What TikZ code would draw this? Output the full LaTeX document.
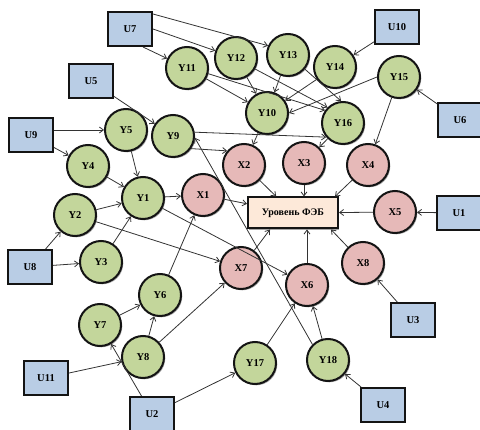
\documentclass[tikz,border=0pt]{standalone}
\usepackage{fontspec}
\setmainfont{Liberation Serif}
\usetikzlibrary{arrows.meta,shadows,calc}
\definecolor{ublue}{HTML}{B9CDE5}
\definecolor{ygreen}{HTML}{C3D69B}
\definecolor{xpink}{HTML}{E6B9B8}
\definecolor{peach}{HTML}{FDE9D9}
\definecolor{edgec}{HTML}{141414}
\begin{document}
\begin{tikzpicture}[x=1pt,y=-1pt,
  shad/.style={drop shadow={shadow xshift=1.3pt,shadow yshift=-1.3pt,opacity=0.35,fill=black}},
  ubox/.style={shad,draw=edgec,line width=2pt,fill=ublue,minimum width=44pt,minimum height=34pt,inner sep=0pt,font=\bfseries\fontsize{10.5}{12}\selectfont},
  ynode/.style={shad,circle,draw=edgec,line width=2pt,fill=ygreen,minimum size=42pt,inner sep=0pt,font=\bfseries\fontsize{10.5}{12}\selectfont},
  xnode/.style={ynode,fill=xpink},
  mainbox/.style={shad,draw=edgec,line width=2pt,fill=peach,minimum width=90pt,minimum height=31pt,inner sep=0pt,font=\bfseries\fontsize{10}{12}\selectfont},
  arr/.style={-{Straight Barb[length=4pt,width=6pt]},line width=0.8pt,draw=black!80},
]
\useasboundingbox (0,0) rectangle (480,430);
% U boxes
\node[ubox] (U7) at (130,29) {U7};
\node[ubox] (U5) at (91,81) {U5};
\node[ubox] (U9) at (31,135) {U9};
\node[ubox] (U10) at (397,27) {U10};
\node[ubox] (U6) at (460,120) {U6};
\node[ubox] (U1) at (459,213) {U1};
\node[ubox] (U8) at (30,267) {U8};
\node[ubox] (U11) at (46,378) {U11};
\node[ubox] (U2) at (152,414) {U2};
\node[ubox] (U3) at (413,320) {U3};
\node[ubox] (U4) at (383,405) {U4};
% main box
\node[mainbox] (B) at (293,213) {Уровень ФЭБ};
% Y nodes
\node[ynode] (Y11) at (187,68) {Y11};
\node[ynode] (Y12) at (236,58) {Y12};
\node[ynode] (Y13) at (288,55) {Y13};
\node[ynode] (Y14) at (335,67) {Y14};
\node[ynode] (Y10) at (267,113) {Y10};
\node[ynode] (Y16) at (343,123) {Y16};
\node[ynode] (Y9) at (173,136) {Y9};
\node[ynode] (Y15) at (399,77) {Y15};
\node[ynode] (Y5) at (126,130) {Y5};
\node[ynode] (Y4) at (88,166) {Y4};
\node[ynode] (Y1) at (143,198) {Y1};
\node[ynode] (Y2) at (75,215) {Y2};
\node[ynode] (Y3) at (101,262) {Y3};
\node[ynode] (Y6) at (160,295) {Y6};
\node[ynode] (Y7) at (100,325) {Y7};
\node[ynode] (Y8) at (143,357) {Y8};
\node[ynode] (Y17) at (255,363) {Y17};
\node[ynode] (Y18) at (328,360) {Y18};
% X nodes
\node[xnode] (X1) at (203,195) {X1};
\node[xnode] (X2) at (244,165) {X2};
\node[xnode] (X3) at (304,163) {X3};
\node[xnode] (X4) at (368,165) {X4};
\node[xnode] (X5) at (395,212) {X5};
\node[xnode] (X8) at (363,263) {X8};
\node[xnode] (X6) at (307,285) {X6};
\node[xnode] (X7) at (241,268) {X7};
% edges
\draw[arr] ([yshift=-3pt]U7.north east) -- (Y13.155);
\draw[arr] (U7.east) -- (Y12);
\draw[arr] ([xshift=-10pt]U7.south east) -- (Y11);
\draw[arr] (U5) -- (Y9);
\draw[arr] ([yshift=5pt]U9.east) -- (Y5);
\draw[arr] (U9) -- (Y4);
\draw[arr] (U10) -- (Y14);
\draw[arr] (U6) -- (Y15);
\draw[arr] (U1) -- (X5);
\draw[arr] (U8) -- (Y2);
\draw[arr] (U8) -- (Y3);
\draw[arr] (U11) -- (Y8);
\draw[arr] (U2) -- (Y7);
\draw[arr] (U2) -- (Y17);
\draw[arr] (U3) -- (X8);
\draw[arr] (U4) -- (Y18);
\draw[arr] (Y11) -- (Y10);
\draw[arr] (Y11.-15) -- (Y16.145);
\draw[arr] (Y12) -- (Y10);
\draw[arr] (Y12.-30) -- (Y16.135);
\draw[arr] (Y13) -- (Y10);
\draw[arr] (Y13.-40) -- (Y16.95);
\draw[arr] (Y14) -- (Y10);
\draw[arr] (Y15.west) -- (Y10.east);
\draw[arr] (Y15) -- (X4);
\draw[arr] (Y10) -- (X2);
\draw[arr] (Y16) -- (X3);
\draw[arr] (Y9.10) -- (Y16.220);
\draw[arr] (Y9.-35) -- (X2.140);
\draw[arr] (Y5) -- (Y1);
\draw[arr] (Y4) -- (Y1);
\draw[arr] (Y2) -- (Y1);
\draw[arr] (Y3) -- (Y1);
\draw[arr] (Y1) -- (X1);
\draw[arr] (Y1) -- (X6);
\draw[arr] (Y2) -- (X7);
\draw[arr] (Y6) -- (X1);
\draw[arr] (Y7) -- (Y6);
\draw[arr] (Y8) -- (Y6);
\draw[arr] (Y8) -- (X7);
\draw[arr] (Y17) -- (X6);
\draw[arr] (Y18) -- (X6);
\draw[arr] (Y18.135) -- (Y9.-5);
\draw[arr] (X1) -- (B);
\draw[arr] (X2) -- (B);
\draw[arr] (X3) -- (X3 |- B.north);
\draw[arr] (X4) -- ([xshift=-4pt]B.north east);
\draw[arr] (X5) -- (B);
\draw[arr] (X8) -- ([xshift=-8pt]B.south east);
\draw[arr] (X6) -- (X6 |- B.south);
\draw[arr] (X7) -- ([xshift=-23pt]B.south);
\end{tikzpicture}
\end{document}
